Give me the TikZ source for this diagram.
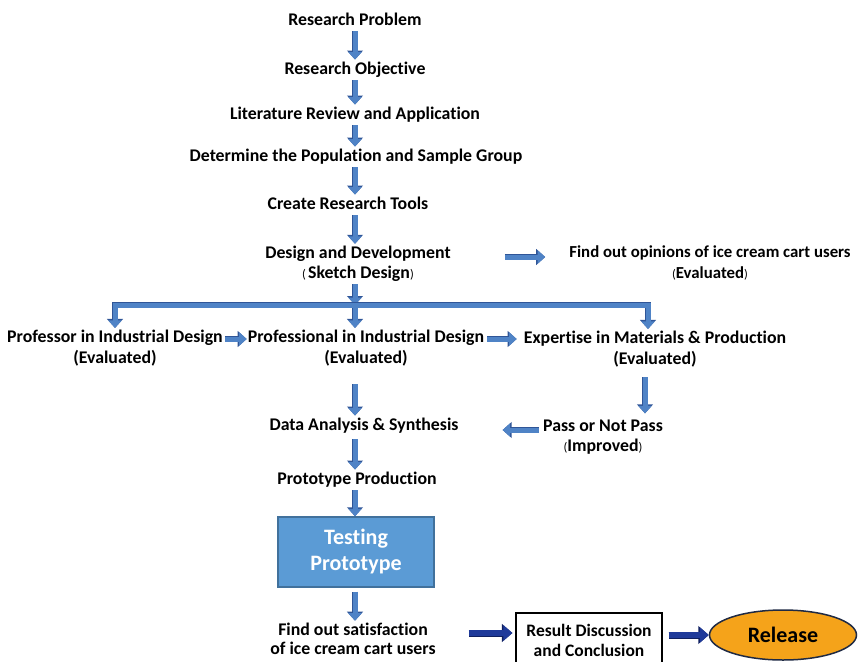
\documentclass[tikz,border=0pt]{standalone}
\usepackage{fontspec}
\setmainfont{Carlito}[Ligatures=NoCommon]
\usepackage{xcolor}
\usepackage{tikz}
\usetikzlibrary{positioning, shapes, arrows.meta, calc}

\definecolor{flowfill}{HTML}{4F83C6}
\definecolor{flowline}{HTML}{2F5597}
\definecolor{navyfill}{HTML}{1F3A9A}
\definecolor{navyline}{HTML}{0F1F5F}
\definecolor{boxfill}{HTML}{5B9BD5}
\definecolor{boxline}{HTML}{41719C}
\definecolor{relfill}{HTML}{F5A31A}
\definecolor{relline}{HTML}{1F2A44}

\newcommand{\smallpar}[1]{{\mdseries\fontsize{12.5}{14}\selectfont #1}}

\tikzset{
  txt/.style={font=\bfseries\fontsize{17.8}{21}\selectfont, text height=12.5pt, text depth=4pt, inner sep=2pt},
  txttwo/.style={font=\bfseries\fontsize{17.8}{20.5}\selectfont, align=center, inner sep=2pt},
  flow/.style={draw=flowfill, line width=5pt, -{Triangle[length=7.5pt,width=13pt]},
    preaction={draw=flowline, line width=6.6pt, -{Triangle[length=9pt,width=15.5pt]}}},
  navyflow/.style={draw=navyfill, line width=5.5pt, -{Triangle[length=9pt,width=15pt]},
    preaction={draw=navyline, line width=7pt, -{Triangle[length=10.5pt,width=17.5pt]}}}
}

\begin{document}
\begin{tikzpicture}[x=1pt,y=-1pt]
        \useasboundingbox (0,0) rectangle (859,661);

        % Main column
        \coordinate (col) at (355,0);
        \coordinate (expcol) at (645,0);
        \node[txt] (rp) at (355,21) {Research Problem};
        \node[txt] (ro) at (355,70) {Research Objective};
        \node[txt] (lr) at (355,115) {Literature Review and Application};
        \node[txt] (pop) at (356,157) {Determine the Population and Sample Group};
        \node[txt] (tools) at (348,205) {Create Research Tools};
        \node[txttwo] (dd) at (358,264) {Design and Development\\\smallpar{(\,}Sketch Design\smallpar{)}};
        \node[txttwo, font=\bfseries\fontsize{16.8}{20.5}\selectfont] (fo) at (710,263) {Find out opinions of ice cream cart users\\\smallpar{(}Evaluated\smallpar{)}};

        % Evaluators
        \coordinate (split) at (355,305);
        \coordinate (splitlow) at (355,308);
        \node[txttwo] (pid) at (115,348) {Professor in Industrial Design\\(Evaluated)};
        \node[txttwo] (prof) at (366,348) {Professional in Industrial Design\\(Evaluated)};
        \node[txttwo] (exp) at (655,349) {Expertise in Materials \& Production\\(Evaluated)};

        \node[txt] (das) at (364,426) {Data Analysis \& Synthesis};
        \node[txttwo] (pass) at (603,437) {Pass or Not Pass\\\smallpar{(}Improved\smallpar{)}};
        \node[txt] (pp) at (357,480) {Prototype Production};
        \node[draw=boxline, line width=1.5pt, fill=boxfill, text=white, font=\bfseries\fontsize{22}{26}\selectfont,
              align=center, minimum width=156pt, minimum height=70pt] (test) at (356,552) {Testing\\Prototype};
        \node[txttwo, font=\bfseries\fontsize{17.8}{19.5}\selectfont] (sat) at (353,639) {Find out satisfaction\\of ice cream cart users};
        \node[draw, line width=1.2pt, font=\bfseries\fontsize{17.5}{20}\selectfont, align=center,
              minimum width=146pt, minimum height=54pt] (res) at (589,640) {Result Discussion\\and Conclusion};
        \node[ellipse, draw=relline, line width=1.5pt, fill=relfill, font=\bfseries\fontsize{22}{24}\selectfont,
              minimum width=147pt, minimum height=50pt, inner sep=0pt] (rel) at (783,635) {Release};

        % Arrows
        \draw[flow] (col |- rp.south) -- (col |- ro.north);
        \draw[flow] (col |- ro.south) -- (col |- lr.north);
        \draw[flow] (col |- lr.south) -- (col |- pop.north);
        \draw[flow] (col |- pop.south) -- (col |- tools.north);
        \draw[flow] (col |- tools.south) -- (col |- dd.north);
        \draw[flow, shorten <=52pt, shorten >=22pt] ([yshift=7pt]dd.east) -- ([yshift=7pt]dd.east -| fo.west);
        \draw[flow] (col |- dd.south) -- (split);
        \draw[flow] (splitlow) -- (col |- prof.north);
        \draw[flow] (split) -| (pid.north);
        \draw[flow] (split) -| ([xshift=-7pt]exp.north);
        \draw[flow, shorten >=-1pt] ([yshift=9pt]pid.east) -- ([yshift=9pt]pid.east -| prof.west);
        \draw[flow, shorten <=1pt, shorten >=5pt] ([yshift=9pt]prof.east) -- ([yshift=9pt]prof.east -| exp.west);
        \draw[flow, shorten <=16pt] (col |- prof.south) -- (col |- das.north);
        \draw[flow, shorten <=8pt, shorten >=4pt] (expcol |- exp.south) -- (expcol |- pass.north);
        \draw[flow, shorten <=2pt, shorten >=42pt] ([yshift=7pt]pass.west) -- ([yshift=7pt]pass.west -| das.east);
        \draw[flow, shorten <=3pt] (col |- das.south) -- (col |- pp.north);
        \draw[flow] (col |- pp.south) -- (col |- test.north);
        \draw[flow, shorten <=4pt] (col |- test.south) -- (col |- sat.north);
        \draw[navyflow, shorten <=31pt, shorten >=3pt] ([yshift=6pt]sat.east) -- ([yshift=6pt]sat.east -| res.west);
        \draw[navyflow, shorten <=6pt] (res.east |- rel.west) -- (rel.west);
      \end{tikzpicture}
\end{document}
